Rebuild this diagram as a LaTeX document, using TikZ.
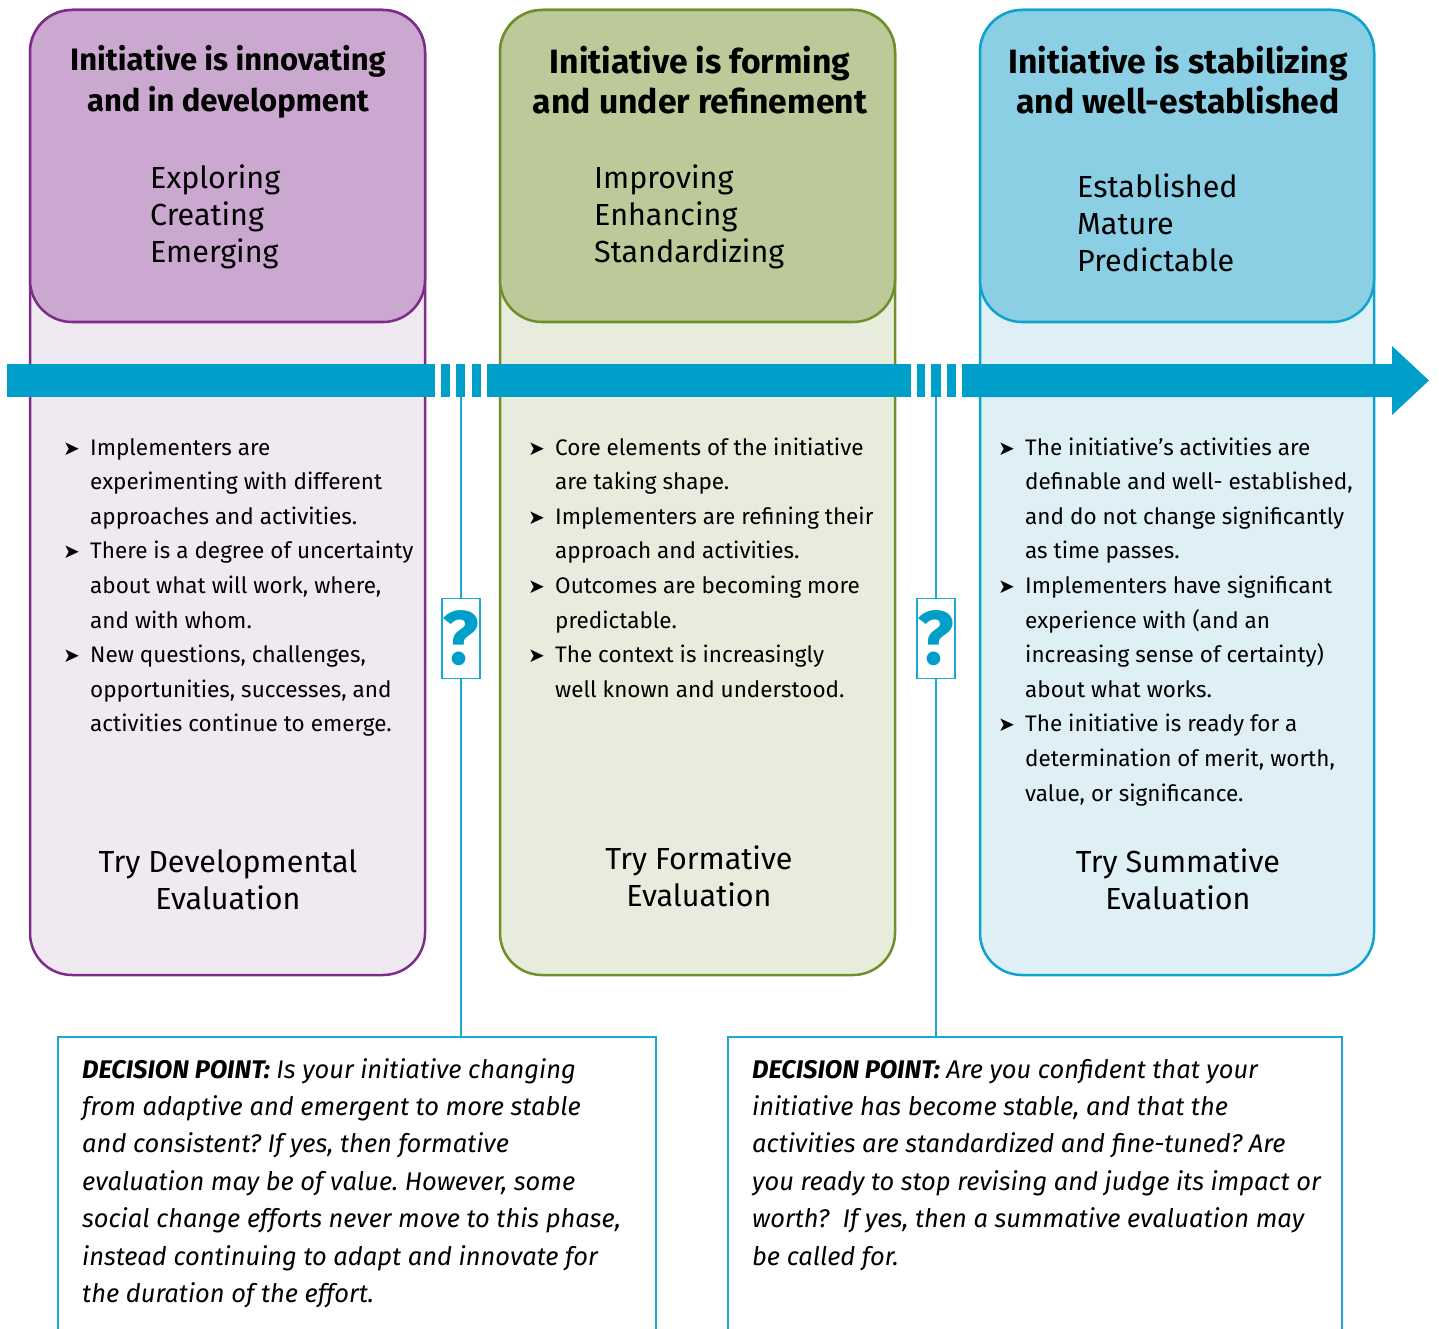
\documentclass[tikz,border=0pt]{standalone}
\usepackage{fontspec}
\setmainfont{Fira Sans}
\newfontfamily\symfont{DejaVu Sans}
\frenchspacing
\definecolor{purHead}{HTML}{CBA8CF}
\definecolor{purBody}{HTML}{F0E9F2}
\definecolor{purLine}{HTML}{7D2C8A}
\definecolor{grnHead}{HTML}{BBCA98}
\definecolor{grnBody}{HTML}{E8ECDD}
\definecolor{grnLine}{HTML}{6F8F2A}
\definecolor{bluHead}{HTML}{8BCFE5}
\definecolor{bluBody}{HTML}{DFEFF6}
\definecolor{bluLine}{HTML}{0EA3CF}
\definecolor{barBlue}{HTML}{009FCA}
\definecolor{thinBlue}{HTML}{1AA8D2}
\newcommand\bul{\llap{\makebox[27pt][l]{\symfont\fontsize{20}{34.6}\selectfont ➤}}}
\begin{document}
\begin{tikzpicture}[x=1pt,y=-1pt,
  colshape/.style={line width=2.5pt, rounded corners=42pt},
  headtxt/.style={anchor=base, align=center, inner sep=0pt},
  subtxt/.style={anchor=base west, align=left, inner sep=0pt, font=\fontsize{30.5}{37}\selectfont},
  bultxt/.style={anchor=base west, align=left, inner sep=0pt, font=\fontsize{22.5}{34.6}\selectfont},
  trytxt/.style={anchor=base, align=center, inner sep=0pt, font=\fontsize{30.5}{37}\selectfont},
  qbox/.style={draw=thinBlue, line width=1.5pt, fill=white, minimum width=38pt, minimum height=80pt, inner sep=0pt, text=barBlue, font=\fontsize{76}{76}\bfseries},
  dbox/.style={draw=thinBlue, line width=1.5pt, anchor=north west, inner sep=0pt},
  dtxt/.style={anchor=base west, align=left, inner sep=0pt, font=\fontsize{25.5}{37.4}\itshape},
  conn/.style={draw=thinBlue, line width=2pt}
]
\useasboundingbox (0,0) rectangle (1439,1329);
\clip (0,0) rectangle (1439,1329);
\fill[white] (0,0) rectangle (1439,1329);

% columns
\path[colshape, fill=purBody, draw=purLine] (30,10) rectangle (425,975);
\path[colshape, fill=purHead, draw=purLine] (30,10) rectangle (425,322);
\path[colshape, fill=grnBody, draw=grnLine] (500,10) rectangle (895,975);
\path[colshape, fill=grnHead, draw=grnLine] (500,10) rectangle (895,322);
\path[colshape, fill=bluBody, draw=bluLine] (980,10) rectangle (1374,975);
\path[colshape, fill=bluHead, draw=bluLine] (980,10) rectangle (1374,322);

% timeline bar
\fill[barBlue] (7,364) rectangle (435,397);
\fill[barBlue] (441,364) rectangle (450,397);
\fill[barBlue] (456,364) rectangle (465,397);
\fill[barBlue] (472,364) rectangle (481,397);
\fill[barBlue] (487,364) rectangle (911,397);
\fill[barBlue] (917,364) rectangle (925,397);
\fill[barBlue] (931,364) rectangle (941,397);
\fill[barBlue] (947,364) rectangle (956,397);
\fill[barBlue] (962,364) -- (1392,364) -- (1392,346) -- (1429,380.5) -- (1392,415) -- (1392,397) -- (962,397) -- cycle;
\coordinate (b1) at (461,397);
\coordinate (b2) at (936,397);

% headers (base anchor = baseline of last line)
\node[headtxt, font=\fontsize{31}{41}\bfseries] (h1) at (228,111.5) {Initiative is innovating\\and in development};
\node[headtxt, font=\fontsize{33.7}{40}\bfseries] (h2) at (700,113.5) {Initiative is forming\\and under refinement};
\node[headtxt, font=\fontsize{33.7}{40}\bfseries] (h3) at (1178,113.5) {Initiative is stabilizing\\and well-established};

\node[subtxt] (s1) at (150,263) {Exploring\\Creating\\Emerging};
\node[subtxt] (s2) at (594,263) {Improving\\Enhancing\\Standardizing};
\node[subtxt] (s3) at (1077,272) {Established\\Mature\\Predictable};

% bullets
\node[bultxt] (l1) at (90,731.8) {\bul Implementers are\\experimenting with different\\approaches and activities.\\
\bul There is a degree of uncertainty\\about what will work, where,\\and with whom.\\
\bul New questions, challenges,\\opportunities, successes, and\\activities continue to emerge.};
\node[bultxt] (l2) at (555,697.2) {\bul Core elements of the initiative\\are taking shape.\\
\bul Implementers are refining their\\approach and activities.\\
\bul Outcomes are becoming more\\predictable.\\
\bul The context is increasingly\\well known and understood.};
\node[bultxt] (l3) at (1025,801) {\bul The initiative’s activities are\\definable and well- established,\\and do not change significantly\\as time passes.\\
\bul Implementers have significant\\experience with (and an\\increasing sense of certainty)\\about what works.\\
\bul The initiative is ready for a\\determination of merit, worth,\\value, or significance.};

% try
\node[trytxt] (t1) at (228,909) {Try Developmental\\Evaluation};
\node[trytxt] (t2) at (699,906) {Try Formative\\Evaluation};
\node[trytxt] (t3) at (1178,909) {Try Summative\\Evaluation};

% decision points
\node[qbox] (q1) at (461,638.5) {?};
\node[qbox] (q2) at (936,638.5) {?};
\node[dbox, minimum width=598pt, minimum height=320pt] (d1) at (57,1036) {};
\node[dbox, minimum width=614pt, minimum height=320pt] (d2) at (727,1036) {};
\draw[conn] (b1) -- (q1.north);
\draw[conn] (q1.south) -- (q1.south |- d1.north);
\draw[conn] (b2) -- (q2.north);
\draw[conn] (q2.south) -- (q2.south |- d2.north);

\node[dtxt] (x1) at (82,1302.4) {\textbf{DECISION POINT:} Is your initiative changing\\from adaptive and emergent to more stable\\and consistent? If yes, then formative\\evaluation may be of value. However, some\\social change efforts never move to this phase,\\instead continuing to adapt and innovate for\\the duration of the effort.};
\node[dtxt] (x2) at (752,1265) {\textbf{DECISION POINT:} Are you confident that your\\initiative has become stable, and that the\\activities are standardized and fine-tuned? Are\\you ready to stop revising and judge its impact or\\worth?~ If yes, then a summative evaluation may\\be called for.};
\end{tikzpicture}
\end{document}
